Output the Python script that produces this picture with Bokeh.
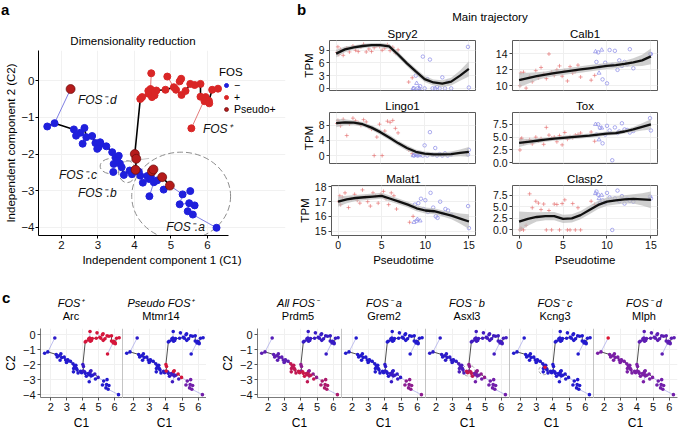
import numpy as np
from bokeh.plotting import figure
from bokeh.models import (Label, Legend, LegendItem, Span, Range1d, FixedTicker, Title,
                          LinearColorMapper, Div, ColumnDataSource)
from bokeh.layouts import row, column
from bokeh.transform import transform
from bokeh.embed import file_html
from bokeh.resources import INLINE

FONT = "Liberation Sans"

# ---------------- panel a : cells in independent-component space ----------------
NEG_X = [1.61, 1.81, 2.34, 2.40, 2.52, 2.63, 2.68, 2.58, 2.84, 2.93, 3.02, 3.07, 2.98, 3.23, 3.06,
         3.39, 3.48, 3.57, 3.43, 3.60, 3.42, 3.65, 3.71, 3.53,
         3.87, 3.93, 4.16, 4.12, 4.23,
         4.35, 4.40, 4.45, 4.53, 4.62, 4.41, 4.80,
         5.32, 5.53, 5.24, 5.50, 5.65, 5.46, 5.60, 6.25]
NEG_Y = [-1.25, -1.16, -1.33, -1.50, -1.42, -1.29, -1.54, -1.72, -1.51, -1.70, -1.81, -1.72, -1.86, -1.79, -1.68,
         -1.95, -2.09, -2.05, -2.27, -2.26, -2.49, -2.36, -2.57, -2.18,
         -2.45, -2.55, -2.59, -2.48, -2.78,
         -2.60, -2.68, -2.62, -2.77, -2.72, -3.15, -2.97,
         -3.10, -3.01, -3.37, -3.34, -3.40, -3.56, -3.65, -4.01]
NEG_GROUP = ["d"] * 15 + ["c"] * 8 + ["c1"] + ["b"] * 5 + ["a1"] * 7 + ["a2"] * 8

POS_X = [4.46, 4.90, 5.28, 5.24, 4.21, 4.16, 4.39, 4.44, 4.60, 4.48, 4.55, 4.85, 5.08, 5.14,
         5.29, 5.40, 5.53, 5.81, 5.81, 5.95, 5.92, 6.04, 6.05, 6.13, 6.29, 5.56, 4.38, 5.65]
POS_Y = [0.20, 0.11, 0.05, -0.02, -0.45, -0.50, -0.36, -0.23, -0.27, -0.45, -0.40, -0.25, -0.18, -0.25,
         -0.39, -0.28, -0.09, -0.09, -0.44, -0.45, -0.56, -0.55, -0.62, -0.25, -0.22, -1.30, -0.28, -0.12]
POS_GROUP = ["up"] * 28

PSEUDO_X = [2.25, 4.01, 4.05, 4.03, 4.48, 4.52, 4.76, 4.97]
PSEUDO_Y = [-0.23, -2.00, -2.13, -2.43, -2.47, -2.42, -2.63, -2.86]
PSEUDO_GROUP = ["psd", "ps", "ps", "ps", "ps", "ps", "ps", "ps"]

TRAJ_XS = [[1.61, 1.81, 2.34, 2.40, 2.52, 2.63, 2.68, 2.84, 2.93, 3.07, 3.23, 3.39, 3.48, 3.53, 3.65,
            3.71, 3.87, 4.03, 4.05, 4.01, 4.16, 4.21, 4.39, 4.44, 4.60, 4.85, 5.08, 5.14, 5.29, 5.40,
            5.53, 5.81, 5.81, 5.92, 6.04, 6.13, 6.29],
           [4.03, 4.16, 4.35, 4.48, 4.53, 4.76, 4.97]]
TRAJ_YS = [[-1.25, -1.16, -1.33, -1.50, -1.42, -1.29, -1.54, -1.51, -1.70, -1.72, -1.79, -1.95, -2.09, -2.18, -2.36,
            -2.57, -2.45, -2.43, -2.13, -2.00, -0.50, -0.45, -0.36, -0.23, -0.27, -0.25, -0.18, -0.25, -0.39, -0.28,
            -0.09, -0.09, -0.44, -0.56, -0.55, -0.25, -0.22],
           [-2.43, -2.59, -2.60, -2.47, -2.77, -2.63, -2.86]]

SPUR_X0 = [1.81, 4.97, 5.32, 5.32, 5.24, 5.50, 5.46, 5.60, 4.53, 4.97, 4.44, 4.90, 5.24, 5.95]
SPUR_Y0 = [-1.16, -2.86, -3.10, -3.10, -3.37, -3.34, -3.56, -3.65, -2.77, -2.86, -0.23, 0.11, -0.02, -0.45]
SPUR_X1 = [2.25, 5.32, 5.53, 5.24, 5.50, 5.46, 5.60, 6.25, 4.41, 4.80, 4.46, 5.08, 5.14, 5.56]
SPUR_Y1 = [-0.23, -3.10, -3.01, -3.37, -3.34, -3.56, -3.65, -4.01, -3.15, -2.97, 0.20, -0.18, -0.25, -1.30]
SPUR_SIDE = ["neg"] * 10 + ["pos"] * 4

ZOOM_X = [5.28, 3.37, 3.80]
ZOOM_Y = [-3.15, -2.33, -2.48]
ZOOM_W = [2.71, 0.62, 0.47]
ZOOM_H = [2.40, 0.42, 0.60]
CONN_X0 = [3.66, 3.66]
CONN_Y0 = [-2.22, -2.42]
CONN_X1 = [4.40, 4.02]
CONN_Y1 = [-2.12, -2.62]

REGION_TEXT = ["FOS\u207b.d", "FOS\u207a", "FOS\u207b.c", "FOS\u207b.b", "FOS\u207b.a"]
REGION_X = [2.98, 6.27, 2.45, 2.98, 5.40]
REGION_Y = [-0.53, -1.31, -2.58, -3.07, -3.99]

# ---------------- panel b : expression along the main trajectory ----------------
T_GRID = list(range(16))
RED_T = [0.1, 0.2, 0.3, 0.5, 0.8, 1.2, 1.5, 1.9, 2.2, 2.5, 2.8, 3.1, 3.4, 3.7, 4.0, 4.3, 4.6, 4.9,
         5.2, 5.5, 5.8, 6.1, 6.4, 6.7, 7.0, 8.2, 8.6]
BLUE_T = [8.8, 9.0, 9.2, 9.5, 9.8, 10.0, 10.3, 10.6, 10.9, 11.2, 11.4, 11.7, 12.0, 12.3, 12.6, 13.0, 14.9, 15.0]
TRI_T = [8.7, 9.1, 9.4]

B_GENES = ["Spry2", "Calb1", "Lingo1", "Tox", "Malat1", "Clasp2"]

SPRY2_FIT = [8.2, 9.2, 9.7, 10.0, 10.2, 10.2, 9.9, 8.0, 5.9, 4.0, 2.2, 1.4, 1.1, 1.6, 3.0, 4.6]
SPRY2_SE = [0.9, 0.7, 0.5, 0.5, 0.5, 0.5, 0.6, 0.7, 0.7, 0.7, 0.7, 0.7, 0.8, 0.9, 1.2, 1.8]
SPRY2_RED = [8.5, 9.8, 8.0, 9.2, 7.8, 9.5, 8.6, 10.0, 9.0, 8.7, 9.8, 10.4, 8.6, 9.3, 8.7, 9.6, 10.1, 9.9,
             9.0, 9.5, 10.3, 8.9, 9.7, 8.3, 9.1, 1.5, 2.5]
SPRY2_BLUE = [0.0, 3.0, 0.0, 0.5, 7.5, 0.0, 2.2, 6.8, 0.0, 0.0, 0.3, 0.0, 2.6, 0.0, 1.5, 0.0, 9.8, 0.2]
SPRY2_TRI = [0.0, 1.2, 0.0]

LINGO1_FIT = [8.6, 8.8, 8.7, 8.3, 7.4, 6.2, 4.8, 3.3, 2.0, 1.0, 0.5, 0.3, 0.3, 0.4, 0.7, 1.0]
LINGO1_SE = [1.1, 0.8, 0.6, 0.6, 0.6, 0.7, 0.7, 0.7, 0.7, 0.6, 0.6, 0.6, 0.6, 0.7, 0.9, 1.3]
LINGO1_RED = [8.5, 9.3, 8.8, 7.9, 9.6, 5.3, 8.4, 9.9, 9.2, 8.7, 8.0, 9.5, 8.9, 7.5, 7.0, 0.0, 4.9, 8.3,
              0.0, 6.5, 9.1, 8.8, 9.3, 7.2, 6.0, 1.5, 0.5]
LINGO1_BLUE = [0.0, 0.3, 0.0, 0.5, 0.0, 2.7, 0.0, 6.2, 0.2, 2.0, 0.0, 0.4, 0.0, 0.6, 0.0, 0.3, 0.3, 1.5]
LINGO1_TRI = [0.0, 0.4, 0.0]

MALAT1_FIT = [17.0, 17.15, 17.25, 17.3, 17.35, 17.4, 17.2, 17.0, 16.8, 16.55, 16.4, 16.35, 16.2, 16.05, 15.85, 15.65]
MALAT1_SE = [0.35, 0.25, 0.2, 0.2, 0.2, 0.2, 0.2, 0.2, 0.2, 0.2, 0.2, 0.2, 0.2, 0.25, 0.35, 0.5]
MALAT1_RED = [17.0, 17.4, 16.8, 17.3, 17.6, 16.6, 17.2, 17.5, 17.1, 16.9, 17.8, 17.3, 17.0, 16.7, 17.6, 17.4,
              16.9, 17.5, 17.7, 17.2, 16.8, 17.6, 17.4, 16.5, 17.0, 15.6, 16.0]
MALAT1_BLUE = [16.8, 15.7, 16.9, 17.2, 16.5, 17.1, 16.3, 17.6, 16.6, 16.0, 15.9, 17.0, 16.2, 16.5, 16.4, 16.1, 16.7, 15.2]
MALAT1_TRI = [15.6, 15.8, 15.7]

CALB1_FIT = [10.7, 10.95, 11.2, 11.4, 11.6, 11.75, 11.9, 12.05, 12.2, 12.35, 12.5, 12.6, 12.75, 12.95, 13.2, 13.7]
CALB1_SE = [0.9, 0.7, 0.5, 0.4, 0.4, 0.4, 0.4, 0.4, 0.4, 0.4, 0.4, 0.4, 0.4, 0.5, 0.7, 1.0]
CALB1_RED = [10.0, 11.6, 10.8, 11.7, 9.7, 11.2, 10.5, 11.9, 11.0, 12.3, 11.5, 10.9, 14.0, 11.7, 11.3, 12.0,
             12.5, 11.2, 11.9, 10.6, 12.4, 11.6, 11.8, 12.6, 11.1, 10.7, 11.3]
CALB1_BLUE = [13.0, 14.2, 12.4, 10.8, 12.9, 10.3, 14.5, 12.6, 14.4, 12.0, 13.2, 12.5, 13.0, 12.7, 14.6, 12.2, 14.0, 14.0]
CALB1_TRI = [14.3, 11.6, 14.5]

TOX_FIT = [3.9, 4.1, 4.3, 4.5, 4.7, 4.85, 5.0, 5.15, 5.3, 5.5, 5.7, 5.8, 6.1, 6.5, 7.0, 7.5]
TOX_SE = [0.8, 0.6, 0.5, 0.4, 0.4, 0.4, 0.4, 0.4, 0.4, 0.4, 0.4, 0.4, 0.4, 0.5, 0.7, 1.0]
TOX_RED = [2.5, 4.6, 4.8, 3.9, 4.2, 4.5, 3.7, 5.0, 4.3, 4.7, 3.6, 6.9, 5.4, 4.8, 5.0, 4.1, 5.3, 3.5,
           5.9, 4.6, 5.1, 4.9, 5.4, 5.5, 5.8, 6.0, 4.2]
TOX_BLUE = [5.5, 7.5, 6.8, 3.8, 5.5, 7.2, 6.3, 0.5, 6.9, 5.8, 6.1, 7.7, 6.5, 6.4, 5.9, 6.2, 8.7, 6.3]
TOX_TRI = [7.5, 4.5, 6.8]

CLASP2_FIT = [1.8, 2.4, 2.8, 3.0, 3.0, 2.4, 2.5, 3.2, 4.3, 5.4, 6.1, 6.4, 6.6, 6.7, 6.6, 6.5]
CLASP2_SE = [2.2, 1.5, 1.0, 0.9, 0.9, 0.9, 0.9, 0.9, 0.9, 0.9, 0.9, 0.9, 0.9, 1.0, 1.3, 1.8]
CLASP2_RED = [0.0, 0.4, 0.2, 0.0, 1.0, 7.8, 4.8, 6.2, 5.8, 4.4, 5.6, 0.0, 4.2, 0.0, 5.6, 5.5, 0.0, 5.7,
              6.5, 0.0, 0.0, 5.7, 0.0, 4.8, 0.0, 6.2, 5.5]
CLASP2_BLUE = [8.3, 7.6, 5.8, 6.4, 5.9, 8.0, 7.0, 0.0, 6.8, 8.5, 6.2, 7.3, 5.7, 6.7, 6.3, 6.1, 7.2, 6.8]
CLASP2_TRI = [7.9, 6.8, 7.5]

B_FIT = [SPRY2_FIT, CALB1_FIT, LINGO1_FIT, TOX_FIT, MALAT1_FIT, CLASP2_FIT]
B_SE = [SPRY2_SE, CALB1_SE, LINGO1_SE, TOX_SE, MALAT1_SE, CLASP2_SE]
B_RED = [SPRY2_RED, CALB1_RED, LINGO1_RED, TOX_RED, MALAT1_RED, CLASP2_RED]
B_BLUE = [SPRY2_BLUE, CALB1_BLUE, LINGO1_BLUE, TOX_BLUE, MALAT1_BLUE, CLASP2_BLUE]
B_TRI = [SPRY2_TRI, CALB1_TRI, LINGO1_TRI, TOX_TRI, MALAT1_TRI, CLASP2_TRI]
B_YRANGE = [(-0.5, 11.3), (9.4, 15.7), (-2.1, 11.4), (-0.13, 9.8), (14.7, 18.1), (-1.2, 9.6)]
B_YTICKS = [[0, 3, 6, 9], [10, 12, 14], [0, 4, 8], [0, 2.5, 5, 7.5], [15, 16, 17, 18], [0, 2.5, 5, 7.5]]
B_YLABELS = [["0", "3", "6", "9"], ["10", "12", "14"], ["0", "4", "8"], ["0.0", "2.5", "5.0", "7.5"],
             ["15", "16", "17", "18"], ["0.0", "2.5", "5.0", "7.5"]]
B_XTICKS = [0, 5, 10, 15]

# ---------------- panel c : expression on the trajectory ----------------
GROUPS = ["d", "c", "c1", "b", "a1", "a2", "up", "ps", "psd"]
ARC_LEVEL = [0.05, 0.05, 0.05, 0.05, 0.05, 0.05, 0.95, 0.15, 0.10]
MTMR14_LEVEL = [0.05, 0.05, 0.05, 0.10, 0.20, 0.45, 0.05, 0.95, 0.10]
PRDM5_LEVEL = [0.35, 0.85, 0.85, 0.90, 0.85, 0.75, 0.15, 0.60, 0.30]
GREM2_LEVEL = [0.05, 0.05, 0.05, 0.05, 0.15, 0.60, 0.05, 0.10, 0.05]
ASXL3_LEVEL = [0.10, 0.25, 0.25, 0.85, 0.45, 0.45, 0.20, 0.60, 0.10]
KCNG3_LEVEL = [0.05, 0.05, 0.95, 0.05, 0.05, 0.05, 0.05, 0.05, 0.05]
MLPH_LEVEL = [0.50, 0.50, 0.50, 0.50, 0.50, 0.45, 0.35, 0.50, 1.00]
C_GENES = ["Arc", "Mtmr14", "Prdm5", "Grem2", "Asxl3", "Kcng3", "Mlph"]
C_SUBSETS = ["FOS\u207a", "Pseudo FOS\u207a", "All FOS\u207b", "FOS\u207b a", "FOS\u207b b", "FOS\u207b c", "FOS\u207b d"]
C_LEVELS = [ARC_LEVEL, MTMR14_LEVEL, PRDM5_LEVEL, GREM2_LEVEL, ASXL3_LEVEL, KCNG3_LEVEL, MLPH_LEVEL]
CIRCLE_GENE = ["Asxl3", "Kcng3"]
CIRCLE_X = [4.00, 3.45]
CIRCLE_Y = [-2.40, -2.38]
CIRCLE_D = [0.75, 0.60]

NEG_TICK_LABELS = {0: "0", -1: "\u22121", -2: "\u22122", -3: "\u22123", -4: "\u22124"}


def mix(c1, c2, t):
    a = [int(c1[i:i + 2], 16) for i in (1, 3, 5)]
    b = [int(c2[i:i + 2], 16) for i in (1, 3, 5)]
    return "#%02x%02x%02x" % tuple(int(round(a[k] + (b[k] - a[k]) * t)) for k in range(3))


LOW, MID, HIGH = "#1a1ad2", "#7b1fa6", "#de1530"
PALETTE = [mix(LOW, MID, i / 127) for i in range(128)] + [mix(MID, HIGH, i / 127) for i in range(128)]


def base_fig(w, h, xr, yr, lb, rb, tb, bb, **kw):
    return figure(width=w, height=h, x_range=Range1d(*xr), y_range=Range1d(*yr),
                  output_backend="svg", toolbar_location=None, title=None,
                  min_border_left=lb, min_border_right=rb, min_border_top=tb, min_border_bottom=bb,
                  background_fill_color="white", border_fill_color="white", **kw)


def style_axis(ax, size="11px", label_size="11.5px"):
    ax.major_label_text_font = FONT
    ax.major_label_text_font_size = size
    ax.major_label_text_color = "#111111"
    ax.axis_label_text_font = FONT
    ax.axis_label_text_font_size = label_size
    ax.axis_label_text_font_style = "normal"
    ax.axis_label_text_color = "#000000"
    ax.minor_tick_line_color = None
    ax.major_tick_in = 0
    ax.major_tick_out = 3
    ax.major_label_standoff = 2
    ax.axis_label_standoff = 2


def header_div(width, height, items):
    spans = []
    for (x, y, text, size, weight, style, anchor) in items:
        tx = "-50%" if anchor == "center" else "0"
        spans.append('<span style="position:absolute;left:%spx;top:%spx;transform:translate(%s,-50%%);'
                     'font-size:%s;font-weight:%s;font-style:%s;white-space:nowrap;line-height:1">%s</span>'
                     % (x, y, tx, size, weight, style, text))
    html = ('<div style="position:relative;width:%dpx;height:%dpx;'
            'font-family:\'Liberation Sans\',Arial,sans-serif;color:#000">%s</div>'
            % (width, height, "".join(spans)))
    return Div(text=html, width=width, height=height, margin=0)


# ================= panel a =================
A_W, A_HEAD, A_H, A_LB, A_RB, A_TB, A_BB = 295, 48, 239, 38, 10, 2, 52
A_DATA_X = (1.37, 6.58)
A_XR = (1.37, 8.14)
pa = base_fig(A_W, A_H, A_XR, (-4.22, 0.82), A_LB, A_RB, A_TB, A_BB, outline_line_color=None)
for ax in (pa.xaxis[0], pa.yaxis[0]):
    style_axis(ax, "11.5px", "11.5px")
    ax.axis_line_color = "#000000"
    ax.major_tick_line_color = "#000000"
pa.xaxis.bounds = A_DATA_X
pa.yaxis.major_label_standoff = 1
pa.yaxis.axis_label_standoff = 1
pa.xaxis.ticker = FixedTicker(ticks=[2, 3, 4, 5, 6])
pa.yaxis.ticker = FixedTicker(ticks=[0, -1, -2, -3, -4])
pa.yaxis.major_label_overrides = NEG_TICK_LABELS
pa.xaxis.axis_label = "Independent component 1 (C1)"
pa.yaxis.axis_label = "Independent component 2 (C2)"
pa.grid.grid_line_color = "#f1f1f1"

pa.ellipse(ZOOM_X, ZOOM_Y, width=ZOOM_W, height=ZOOM_H, fill_color=None,
           line_color="#8c8c8c", line_dash="6 3", line_width=1)
pa.segment(CONN_X0, CONN_Y0, CONN_X1, CONN_Y1, line_color="#b5b5b5", line_width=0.8)
spur_src = ColumnDataSource(dict(x0=SPUR_X0, y0=SPUR_Y0, x1=SPUR_X1, y1=SPUR_Y1,
                                 c=["#7070e0" if s == "neg" else "#e06a6a" for s in SPUR_SIDE]))
pa.segment("x0", "y0", "x1", "y1", source=spur_src, line_color="c", line_width=0.9)
pa.multi_line(TRAJ_XS, TRAJ_YS, line_color="#000000", line_width=1.6)
r_neg = pa.scatter(NEG_X, NEG_Y, size=7, fill_color="#1f1fdc", line_color="#1f1fdc")
r_pos = pa.scatter(POS_X, POS_Y, size=7, fill_color="#d92626", line_color="#d92626")
r_ps = pa.scatter(PSEUDO_X, PSEUDO_Y, size=9, fill_color="#b51b1b", line_color="#6a0c0c", line_width=0.7)

legend = Legend(items=[LegendItem(label="\u2212", renderers=[r_neg]),
                       LegendItem(label="+", renderers=[r_pos]),
                       LegendItem(label="Pseudo+", renderers=[r_ps])],
                title="FOS", location=(181, 120), orientation="vertical",
                glyph_width=14, glyph_height=10, label_height=10, spacing=0,
                label_standoff=1, padding=0, margin=0, title_standoff=1,
                background_fill_alpha=0, border_line_color=None,
                label_text_font=FONT, label_text_font_size="10.5px", label_text_color="#000000",
                title_text_font=FONT, title_text_font_size="11.5px", title_text_font_style="normal",
                title_text_color="#000000")
pa.add_layout(legend, "center")

for t, x, y in zip(REGION_TEXT, REGION_X, REGION_Y):
    pa.add_layout(Label(x=x, y=y, text=t, text_align="center", text_baseline="middle",
                        text_font=FONT, text_font_size="12px", text_font_style="italic",
                        text_color="#111111"))

div_a = header_div(A_W, A_HEAD, [
    (1, 9, "a", "15px", "bold", "normal", "left"),
    (133, 42, "Dimensionality reduction", "11.5px", "normal", "normal", "center"),
])
panel_a = column(div_a, pa)

# ================= panel b =================
B_BLOCK_W = 390
B_HEAD = 24
B_WIDTH = (185, 205)
B_LB = (34, 32)
B_RB = (5, 28)
B_HEIGHT = (72, 73, 118)
B_TB = (15, 15, 15)
B_BB = (6, 6, 52)

b_figs = []
for i, gene in enumerate(B_GENES):
    r, c = divmod(i, 2)
    w, h = B_WIDTH[c], B_HEIGHT[r]
    p = base_fig(w, h, (-0.75, 15.75), B_YRANGE[i], B_LB[c], B_RB[c], B_TB[r], B_BB[r],
                 outline_line_color="#5a5a5a", x_axis_location="below" if r == 2 else None)
    p.grid.grid_line_color = "#efefef"
    p.xgrid.ticker = FixedTicker(ticks=B_XTICKS)
    p.ygrid.ticker = FixedTicker(ticks=B_YTICKS[i])
    axes = [p.yaxis[0]] + ([p.xaxis[0]] if r == 2 else [])
    for ax in axes:
        style_axis(ax, "10.5px", "11.5px")
        ax.axis_line_color = None
        ax.major_tick_line_color = "#444444"
    p.yaxis.ticker = FixedTicker(ticks=B_YTICKS[i])
    p.yaxis.major_label_overrides = dict(zip(B_YTICKS[i], B_YLABELS[i]))
    p.yaxis.axis_label_standoff = 1
    if r == 2:
        p.xaxis.ticker = FixedTicker(ticks=B_XTICKS)
        p.xaxis.axis_label = "Pseudotime"
    if c == 0:
        p.yaxis.axis_label = "TPM"
    p.scatter(RED_T, B_RED[i], marker="cross", size=4, line_color="#e46c6c", line_alpha=0.8, line_width=0.8)
    p.scatter(BLUE_T, B_BLUE[i], marker="circle", size=3.5, fill_color=None, line_color="#8c8ce8",
              line_alpha=0.9, line_width=0.8)
    p.scatter(TRI_T, B_TRI[i], marker="triangle", size=4, fill_color=None, line_color="#8c8ce8",
              line_alpha=0.9, line_width=0.8)
    fit = np.array(B_FIT[i])
    se = np.array(B_SE[i])
    p.varea(x=T_GRID, y1=fit - se, y2=fit + se, fill_color="#bdbdbd", fill_alpha=0.72)
    p.line(T_GRID, fit, line_color="#111111", line_width=2.3)
    p.add_layout(Title(text=gene, align="center", text_font=FONT, text_font_size="11.5px",
                       text_font_style="normal", text_color="#000000", standoff=2, offset=0), "above")
    b_figs.append(p)

div_b = header_div(B_BLOCK_W, B_HEAD, [
    (2, 9, "b", "15px", "bold", "normal", "left"),
    (195, 18, "Main trajectory", "11.5px", "normal", "normal", "center"),
])
panel_b = column(div_b, row(b_figs[0], b_figs[1]), row(b_figs[2], b_figs[3]), row(b_figs[4], b_figs[5]))

# ================= panel c =================
C_W = [122, 84, 135, 84, 84, 84, 92]
C_LB = [38, 0, 51, 0, 0, 0, 0]
C_RB = [0, 0, 0, 0, 0, 0, 8]
C_HEAD, C_H, C_TB, C_BB = 41, 104, 0, 32
C_XR, C_YR = (1.35, 6.5), (-4.2, 0.4)
C_TITLE_X = [71, 161, 298, 384, 467, 555, 644]

ALL_X = NEG_X + POS_X + PSEUDO_X
ALL_Y = NEG_Y + POS_Y + PSEUDO_Y
ALL_GROUP = NEG_GROUP + POS_GROUP + PSEUDO_GROUP
mapper = LinearColorMapper(palette=PALETTE, low=0, high=1)

c_figs = []
for k, gene in enumerate(C_GENES):
    has_y = C_LB[k] > 0
    p = base_fig(C_W[k], C_H, C_XR, C_YR, C_LB[k], C_RB[k], C_TB, C_BB,
                 outline_line_color=None, y_axis_location="left" if has_y else None)
    p.grid.grid_line_color = "#f0f0f0"
    p.xgrid.ticker = FixedTicker(ticks=[2, 3, 4, 5, 6])
    p.ygrid.ticker = FixedTicker(ticks=[0, -1, -2, -3, -4])
    style_axis(p.xaxis[0], "11px", "12px")
    p.xaxis.ticker = FixedTicker(ticks=[2, 3, 4, 5, 6])
    p.xaxis.axis_line_color = "#7a7a7a"
    p.xaxis.major_tick_line_color = "#555555"
    p.xaxis.axis_label = "C1"
    p.xaxis.major_label_standoff = 2
    p.xaxis.axis_label_standoff = 2
    if has_y:
        style_axis(p.yaxis[0], "11px", "12px")
        p.yaxis.ticker = FixedTicker(ticks=[0, -1, -2, -3, -4])
        p.yaxis.major_label_overrides = NEG_TICK_LABELS
        p.yaxis.axis_line_color = "#7a7a7a"
        p.yaxis.major_tick_line_color = "#555555"
        p.yaxis.axis_label = "C2"
    else:
        p.add_layout(Span(location=C_XR[0], dimension="height", line_color="#8a8a8a", line_width=1))
    lv = C_LEVELS[k]
    levels = [lv[GROUPS.index(g)] for g in ALL_GROUP]
    order = np.argsort(levels, kind="stable")
    src = ColumnDataSource(dict(x=[ALL_X[j] for j in order], y=[ALL_Y[j] for j in order],
                                level=[levels[j] for j in order]))
    p.segment(SPUR_X0, SPUR_Y0, SPUR_X1, SPUR_Y1, line_color="#a4a4e6", line_width=0.7)
    p.multi_line(TRAJ_XS, TRAJ_YS, line_color="#222222", line_width=0.8)
    for cg, cx, cy, cd in zip(CIRCLE_GENE, CIRCLE_X, CIRCLE_Y, CIRCLE_D):
        if cg == gene:
            p.ellipse([cx], [cy], width=cd, height=cd, fill_color=None, line_color="#9a9a9a",
                      line_dash="3 2", line_width=0.9)
    p.scatter("x", "y", source=src, size=3.6, line_color=None,
              fill_color=transform("level", mapper))
    c_figs.append(p)

c_items = [(2, 10, "c", "15px", "bold", "normal", "left")]
for k in range(7):
    c_items.append((C_TITLE_X[k], 16, C_SUBSETS[k], "11px", "normal", "italic", "center"))
    c_items.append((C_TITLE_X[k], 29, C_GENES[k], "11px", "normal", "normal", "center"))
div_c = header_div(sum(C_W), C_HEAD, c_items)
panel_c = column(div_c, row(*c_figs))

layout = column(row(panel_a, panel_b), panel_c)
open("out.html", "w").write(file_html(layout, INLINE))
